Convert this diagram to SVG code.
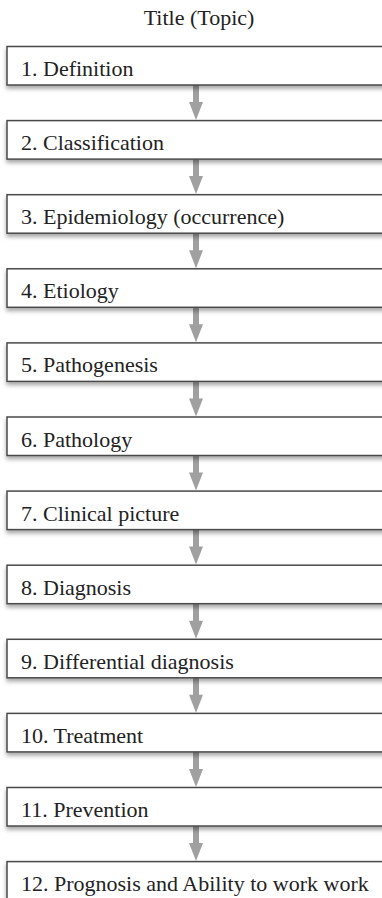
<svg xmlns="http://www.w3.org/2000/svg" width="382" height="898" viewBox="0 0 382 898">
<style>
.box{fill:#fff;stroke:#4a4a4a;stroke-width:1.5;filter:url(#sh)}
.t{font-family:'Liberation Serif','Times New Roman','DejaVu Serif',serif;font-size:22px;fill:#222}
.title{font-family:'Liberation Serif','Times New Roman','DejaVu Serif',serif;font-size:22px;fill:#222;text-anchor:middle}
.shaft{fill:#a0a0a0}
</style>
<defs>
<filter id="sh" x="-10%" y="-20%" width="120%" height="160%">
<feDropShadow dx="0" dy="3" stdDeviation="2" flood-color="#000" flood-opacity="0.35"/>
</filter>
<g id="arrowShape">
<rect class="shaft" x="193" y="0" width="6" height="18"/>
<polygon class="shaft" points="189,17 203,17 196,35"/>
</g>
</defs>
<text class="title" x="199" y="25">Title (Topic)</text>
<g id="connectors">
<use href="#arrowShape" y="85"/>
<use href="#arrowShape" y="159.1"/>
<use href="#arrowShape" y="233.2"/>
<use href="#arrowShape" y="307.3"/>
<use href="#arrowShape" y="381.4"/>
<use href="#arrowShape" y="455.5"/>
<use href="#arrowShape" y="529.6"/>
<use href="#arrowShape" y="603.7"/>
<use href="#arrowShape" y="677.8"/>
<use href="#arrowShape" y="751.9"/>
<use href="#arrowShape" y="826"/>
</g>
<g id="n1"><rect class="box" x="7" y="46.5" width="390" height="38.5"/><text class="t" x="21" y="76">1. Definition</text></g>
<g id="n2"><rect class="box" x="7" y="120.6" width="390" height="38.5"/><text class="t" x="21" y="150.1">2. Classification</text></g>
<g id="n3"><rect class="box" x="7" y="194.7" width="390" height="38.5"/><text class="t" x="21" y="224.2">3. Epidemiology (occurrence)</text></g>
<g id="n4"><rect class="box" x="7" y="268.8" width="390" height="38.5"/><text class="t" x="21" y="298.3">4. Etiology</text></g>
<g id="n5"><rect class="box" x="7" y="342.9" width="390" height="38.5"/><text class="t" x="21" y="372.4">5. Pathogenesis</text></g>
<g id="n6"><rect class="box" x="7" y="417" width="390" height="38.5"/><text class="t" x="21" y="446.5">6. Pathology</text></g>
<g id="n7"><rect class="box" x="7" y="491.1" width="390" height="38.5"/><text class="t" x="21" y="520.6">7. Clinical picture</text></g>
<g id="n8"><rect class="box" x="7" y="565.2" width="390" height="38.5"/><text class="t" x="21" y="594.7">8. Diagnosis</text></g>
<g id="n9"><rect class="box" x="7" y="639.3" width="390" height="38.5"/><text class="t" x="21" y="668.8">9. Differential diagnosis</text></g>
<g id="n10"><rect class="box" x="7" y="713.4" width="390" height="38.5"/><text class="t" x="21" y="742.9">10. Treatment</text></g>
<g id="n11"><rect class="box" x="7" y="787.5" width="390" height="38.5"/><text class="t" x="21" y="817">11. Prevention</text></g>
<g id="n12"><rect class="box" x="7" y="861.6" width="390" height="38.5"/><text class="t" x="21" y="891.1">12. Prognosis and Ability to work work</text></g>
</svg>
